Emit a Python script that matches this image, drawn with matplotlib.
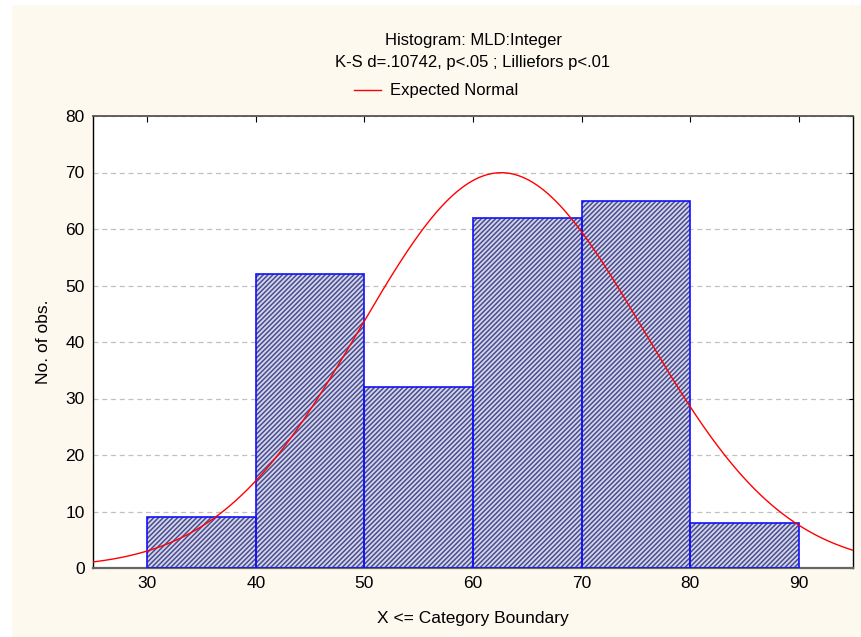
import numpy as np
import matplotlib.pyplot as plt
from matplotlib.patches import Rectangle
from matplotlib.lines import Line2D

plt.rcParams['font.family'] = ['Liberation Sans', 'DejaVu Sans']
plt.rcParams['hatch.linewidth'] = 1.1

# Histogram bins (left edges) and counts
bin_left = [30, 40, 50, 60, 70, 80]
bin_width = 10
counts = [9, 52, 32, 62, 65, 8]

# Fitted normal parameters
fit_mean = 62.6
fit_sd = 13.0
n_obs = sum(counts)

title_lines = ['Histogram: MLD:Integer', 'K-S d=.10742, p<.05 ; Lilliefors p<.01']

cream = '#fdf9ef'

fig = plt.figure(figsize = (8.61, 6.37), dpi = 100)
fig.patch.set_facecolor('white')
fig.add_artist(Rectangle((12 / 861, 0), 1, 1 - 5 / 637, transform = fig.transFigure, facecolor = cream, edgecolor = 'none', zorder = -10))

ax = fig.add_axes([93 / 861, 1 - 568 / 637, 760 / 861, 452 / 637])
ax.set_facecolor('white')

# hatched fill, then blue outline
ax.bar(bin_left, counts, width = bin_width, align = 'edge', facecolor = '#d4d6ec', edgecolor = '#4a4d8c', hatch = '///////', lw = 0, zorder = 2)
ax.bar(bin_left, counts, width = bin_width, align = 'edge', facecolor = 'none', edgecolor = '#1010ff', lw = 1.2, zorder = 3)

x = np.linspace(25, 95, 400)
y = n_obs * bin_width / (fit_sd * np.sqrt(2 * np.pi)) * np.exp(-0.5 * ((x - fit_mean) / fit_sd) ** 2)
ax.plot(x, y, color = '#ff0000', lw = 1, zorder = 4)

ax.set_xlim(25, 95)
ax.set_ylim(0, 80)
ax.set_xticks(range(30, 91, 10))
ax.set_yticks(range(0, 81, 10))
ax.yaxis.grid(True, ls = (0, (4, 3)), color = '#c0c0c0', lw = 0.9, zorder = 1)
ax.set_axisbelow(True)
ax.tick_params(direction = 'in', labelsize = 12.5, color = 'black', pad = 6)
ax.tick_params(axis = 'x', bottom = False, top = True, length = 4)
ax.tick_params(axis = 'y', left = False, right = True, length = 3)
for s in ax.spines.values():
	s.set_color('black')
	s.set_linewidth(1)
ax.spines['bottom'].set_color('#666666')
ax.spines['bottom'].set_linewidth(1.6)
ax.spines['top'].set_color('#555555')
ax.spines['top'].set_linewidth(1.3)

ax.set_xlabel('X <= Category Boundary', fontsize = 12.5, labelpad = 14)
ax.set_ylabel('No. of obs.', fontsize = 12.5, labelpad = 10)

fig.text(473 / 861, 1 - 40 / 637, title_lines[0], ha = 'center', va = 'center', fontsize = 12)
fig.text(473 / 861, 1 - 62 / 637, title_lines[1], ha = 'center', va = 'center', fontsize = 12)
fig.add_artist(Line2D([354 / 861, 381 / 861], [1 - 90 / 637] * 2, color = '#ff0000', lw = 1, transform = fig.transFigure))
fig.text(390 / 861, 1 - 90 / 637, 'Expected Normal', ha = 'left', va = 'center', fontsize = 12)

fig.savefig('out.png', dpi = 100, facecolor = fig.get_facecolor())
